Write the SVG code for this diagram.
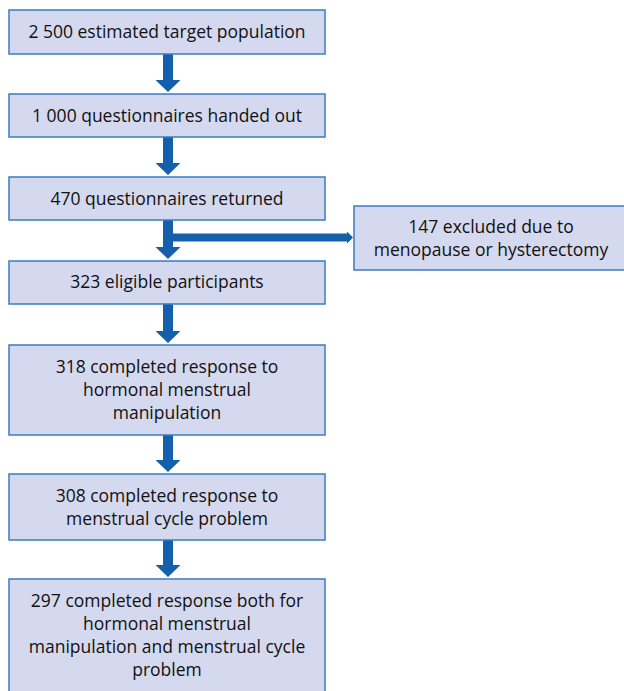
<svg xmlns="http://www.w3.org/2000/svg" width="624" height="691" viewBox="0 0 624 691">
<style>
.box{fill:#D5D9EF;stroke:#3A7CC3;stroke-width:1.5}
.t{font-family:"Open Sans","Noto Sans",sans-serif;font-size:17.5px;fill:#111111;text-anchor:middle}
.arr{fill:#1560AC}
</style>
<rect width="624" height="691" fill="#ffffff"/>
<g id="connectors">
<polygon class="arr" points="163,54 173,54 173,80 180.5,80 168,92 155.5,80 163,80"/>
<polygon class="arr" points="163,137 173,137 173,163 180.5,163 168,175 155.5,163 163,163"/>
<polygon class="arr" points="163,220 173,220 173,247 180.5,247 168,259 155.5,247 163,247"/>
<polygon class="arr" points="173,233.5 347,233.5 347,231.5 353,237.5 347,243.5 347,241.5 173,241.5"/>
<polygon class="arr" points="163,304 173,304 173,331 180.5,331 168,343 155.5,331 163,331"/>
<polygon class="arr" points="163,435 173,435 173,460 180.5,460 168,472 155.5,460 163,460"/>
<polygon class="arr" points="163,540 173,540 173,565 180.5,565 168,577 155.5,565 163,565"/>
</g>
<g id="n1"><rect class="box" x="9" y="10" width="316" height="44"/><text class="t" x="167" y="38">2 500 estimated target population</text></g>
<g id="n2"><rect class="box" x="9" y="94" width="316" height="43"/><text class="t" x="167" y="122">1 000 questionnaires handed out</text></g>
<g id="n3"><rect class="box" x="9" y="177" width="316" height="43"/><text class="t" x="167" y="205">470 questionnaires returned</text></g>
<g id="n4"><rect class="box" x="9" y="261" width="316" height="43"/><text class="t" x="167" y="288">323 eligible participants</text></g>
<g id="n5"><rect class="box" x="9" y="345" width="316" height="90"/><text class="t" x="167" y="373">318 completed response to</text><text class="t" x="167" y="396">hormonal menstrual</text><text class="t" x="167" y="419">manipulation</text></g>
<g id="n6"><rect class="box" x="9" y="474" width="316" height="66"/><text class="t" x="167" y="502">308 completed response to</text><text class="t" x="167" y="525">menstrual cycle problem</text></g>
<g id="n7"><rect class="box" x="9" y="579" width="316" height="115"/><text class="t" x="167" y="607">297 completed response both for</text><text class="t" x="167" y="630">hormonal menstrual</text><text class="t" x="167" y="653">manipulation and menstrual cycle</text><text class="t" x="167" y="676">problem</text></g>
<g id="n8"><rect class="box" x="354" y="206" width="276" height="64"/><text class="t" x="491" y="233">147 excluded due to</text><text class="t" x="491" y="256">menopause or hysterectomy</text></g>
</svg>
